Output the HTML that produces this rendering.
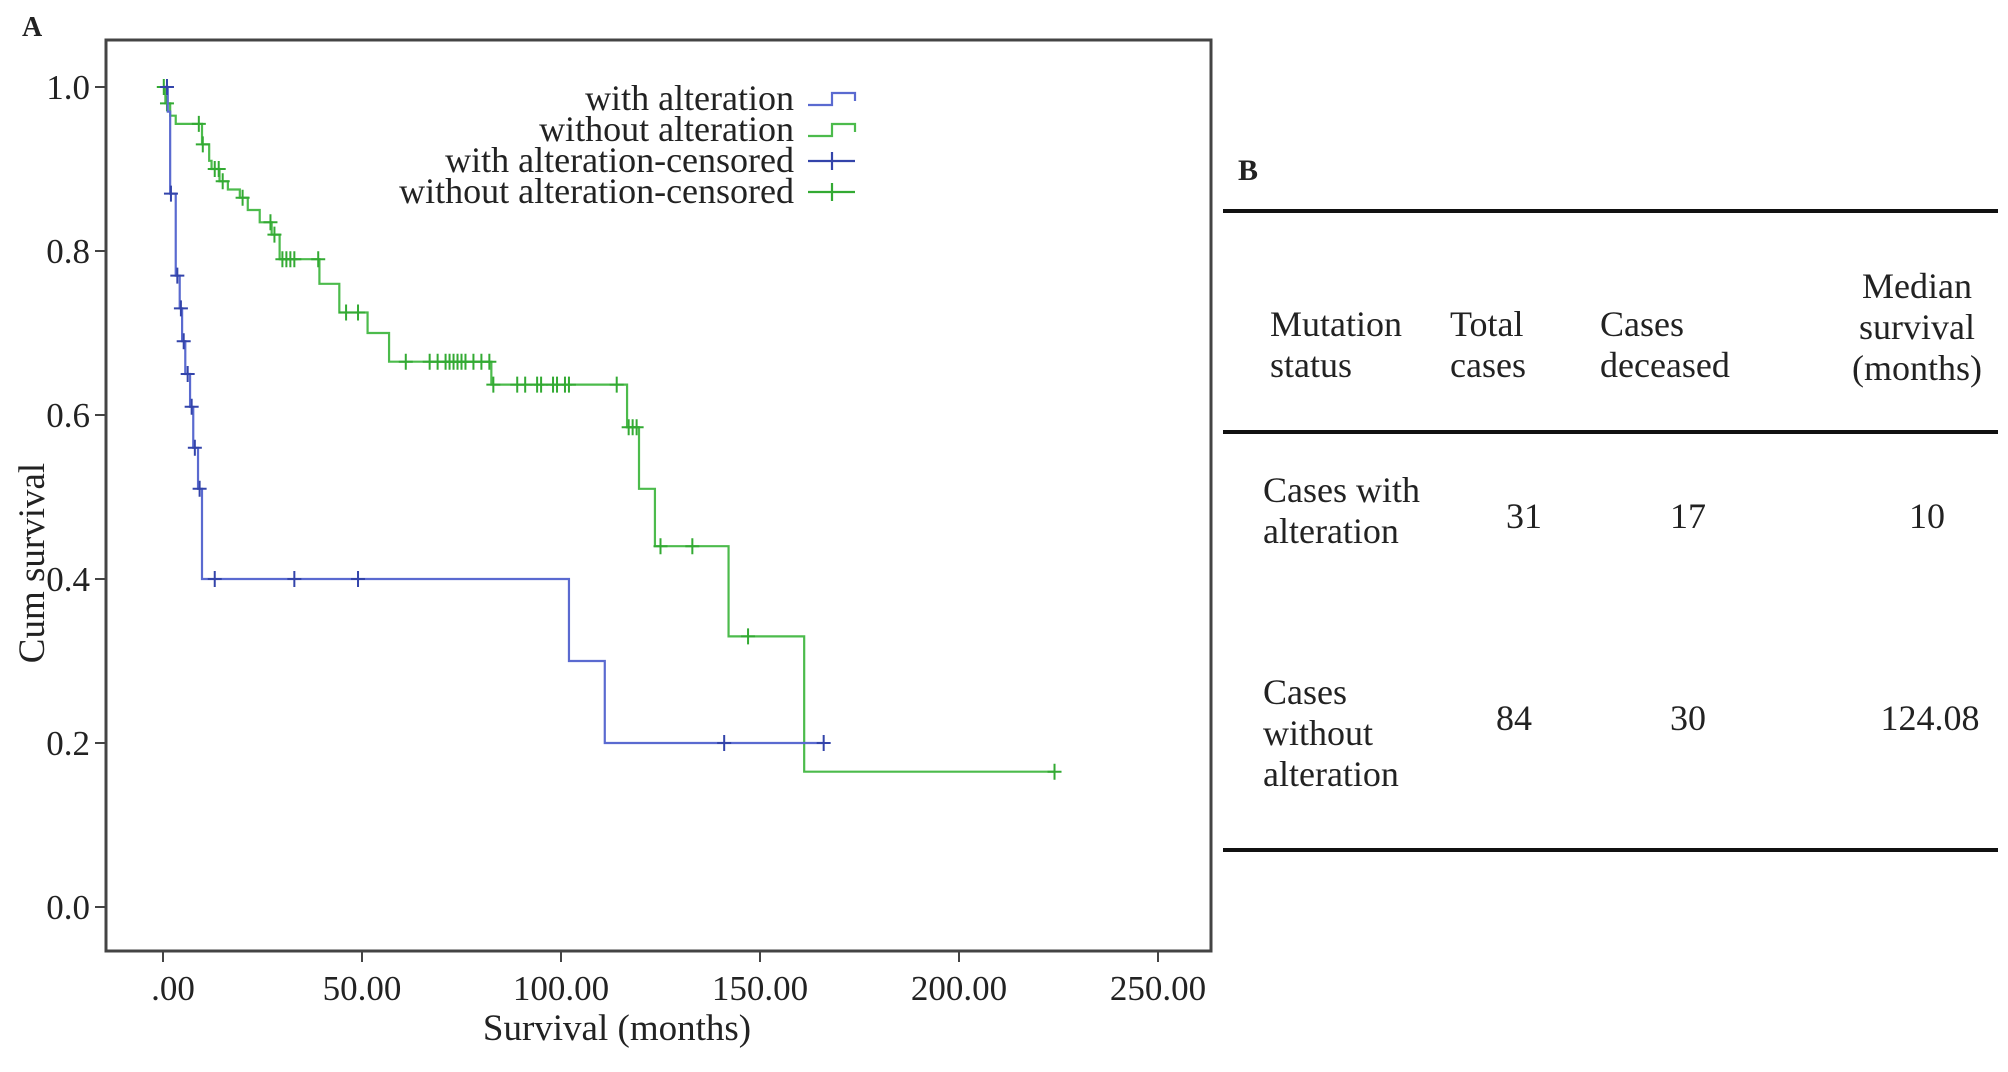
<!DOCTYPE html>
<html><head><meta charset="utf-8"><style>
html,body{margin:0;padding:0;background:#fff;}
body{width:2008px;height:1072px;position:relative;overflow:hidden;font-family:"Liberation Serif",serif;color:#222;}
.t{position:absolute;font-size:36px;line-height:41px;white-space:nowrap;}
.rule{position:absolute;left:1223px;width:775px;height:4px;background:#111;}
</style></head><body>
<svg id="chart" width="1220" height="1072" style="position:absolute;left:0;top:0" font-family="Liberation Serif, serif"></svg>

<div class="t" style="left:1238px;top:150px;font-weight:bold;font-size:30px">B</div>
<div class="rule" style="top:209px"></div>
<div class="rule" style="top:430px"></div>
<div class="rule" style="top:848px"></div>
<div class="t" style="left:1270px;top:304px">Mutation<br>status</div>
<div class="t" style="left:1450px;top:304px">Total<br>cases</div>
<div class="t" style="left:1600px;top:304px">Cases<br>deceased</div>
<div class="t" style="left:1837px;top:266px;width:160px;text-align:center">Median<br>survival<br>(months)</div>
<div class="t" style="left:1263px;top:470px">Cases with<br>alteration</div>
<div class="t" style="left:1484px;top:496px;width:80px;text-align:center">31</div>
<div class="t" style="left:1648px;top:496px;width:80px;text-align:center">17</div>
<div class="t" style="left:1887px;top:496px;width:80px;text-align:center">10</div>
<div class="t" style="left:1263px;top:672px">Cases<br>without<br>alteration</div>
<div class="t" style="left:1474px;top:698px;width:80px;text-align:center">84</div>
<div class="t" style="left:1648px;top:698px;width:80px;text-align:center">30</div>
<div class="t" style="left:1865px;top:698px;width:130px;text-align:center">124.08</div>

<script>
const xTicks=[0,50,100,150,200,250];
const xTickLabels=[".00","50.00","100.00","150.00","200.00","250.00"];
const yTicks=[0,0.2,0.4,0.6,0.8,1.0];
const yTickLabels=["0.0","0.2","0.4","0.6","0.8","1.0"];
const blueTimes=[0,1.2,1.8,3.2,4.2,4.8,5.6,6.8,7.6,8.8,9.8,102,111];
const blueSurv=[1.0,0.97,0.87,0.77,0.73,0.69,0.65,0.61,0.56,0.51,0.40,0.30,0.20];
const blueEnd=166;
const blueCensored=[1.0,2.0,3.6,4.5,5.2,6.2,7.2,8.0,9.2,13,33,49,141,166];
const greenTimes=[0,0.6,1.8,3.2,9.8,11.6,12.2,14.2,16.3,19.3,21.3,24.3,27.3,29.3,39.3,44.3,51.4,56.8,82.5,116.6,119.6,123.6,142.1,161.1];
const greenSurv=[1.0,0.98,0.965,0.955,0.93,0.91,0.90,0.885,0.875,0.865,0.85,0.835,0.82,0.79,0.76,0.725,0.70,0.665,0.637,0.585,0.51,0.44,0.33,0.165];
const greenEnd=224;
const greenCensored=[0.2,1,9,10,13,14,15,20,27,28,30,31,32,33,39,46,49,61,67,69,71,72,73,74,75,76,78,80,82,83,89,91,94,95,98,99,101,102,114,117,118,119,125,133,147,224];

const svg=document.getElementById('chart');
const NS='http://www.w3.org/2000/svg';
const X=t=>163+t*3.98, Y=s=>907-s*820;
function mk(tag,attrs,parent){const e=document.createElementNS(NS,tag);for(const k in attrs)e.setAttribute(k,attrs[k]);(parent||svg).appendChild(e);return e;}
function txt(x,y,s,anchor,size,extra){const e=mk('text',Object.assign({x:x,y:y,'text-anchor':anchor,'font-size':size,fill:'#222'},extra||{}));e.textContent=s;return e;}

let f=mk('rect',{x:106,y:40,width:1105,height:911,fill:'none',stroke:'#444','stroke-width':3});


let a=txt(22,36,'A','start',28,{'font-weight':'bold'});



xTicks.forEach((v,i)=>{
  let l=mk('line',{x1:X(v),x2:X(v),y1:951,y2:962,stroke:'#444','stroke-width':2});
  
  
  let t=txt(X(v)+(i==0?10:0),1000,xTickLabels[i],'middle',35);
  
  
});
yTicks.forEach((v,i)=>{
  let l=mk('line',{x1:95,x2:106,y1:Y(v),y2:Y(v),stroke:'#444','stroke-width':2});
  
  
  let t=txt(90,Y(v)+12,yTickLabels[i],'end',35);
  
  
});
let xt=txt(617,1040,'Survival (months)','middle',37);


let yt=txt(0,0,'Cum survival','middle',37,{transform:'translate(44,563) rotate(-90)'});



function stepPath(times,surv,end){
  let d='M'+X(times[0])+','+Y(surv[0]);
  for(let i=1;i<times.length;i++){d+=' H'+X(times[i])+' V'+Y(surv[i]);}
  return d+' H'+X(end);
}
function survAt(times,surv,t){let s=surv[0];for(let i=0;i<times.length;i++){if(times[i]<=t)s=surv[i];}return s;}
function series(times,surv,end,cens,color,mcol,name){
  let p=mk('path',{d:stepPath(times,surv,end),fill:'none',stroke:color,'stroke-width':2.2});
  
  
  cens.forEach(t=>{
    const cx=X(t),cy=Y(survAt(times,surv,t));
    let g=mk('path',{d:`M${cx},${cy-8}V${cy+8}M${cx-7},${cy}H${cx+7}`,stroke:mcol,'stroke-width':2});
    
    
  });
}
series(greenTimes,greenSurv,greenEnd,greenCensored,'#4cbb4c','#33aa33','without-alteration');
series(blueTimes,blueSurv,blueEnd,blueCensored,'#5a6ad0','#3344aa','with-alteration');

const legendLabels=['with alteration','without alteration','with alteration-censored','without alteration-censored'];
const legendCols=['#5a6ad0','#4cbb4c','#3344aa','#33aa33'];
legendLabels.forEach((s,i)=>{
  const y=99+i*31;
  let t=txt(794,y+11,s,'end',36);
  
  
  let sym;
  if(i<2) sym=mk('path',{d:`M808,${y+6}H832V${y-6}H855V${y+2}`,fill:'none',stroke:legendCols[i],'stroke-width':2.2});
  else sym=mk('path',{d:`M808,${y}H855M832,${y-9}V${y+9}`,fill:'none',stroke:legendCols[i],'stroke-width':2.2});
  
  
});
</script>
</body></html>
